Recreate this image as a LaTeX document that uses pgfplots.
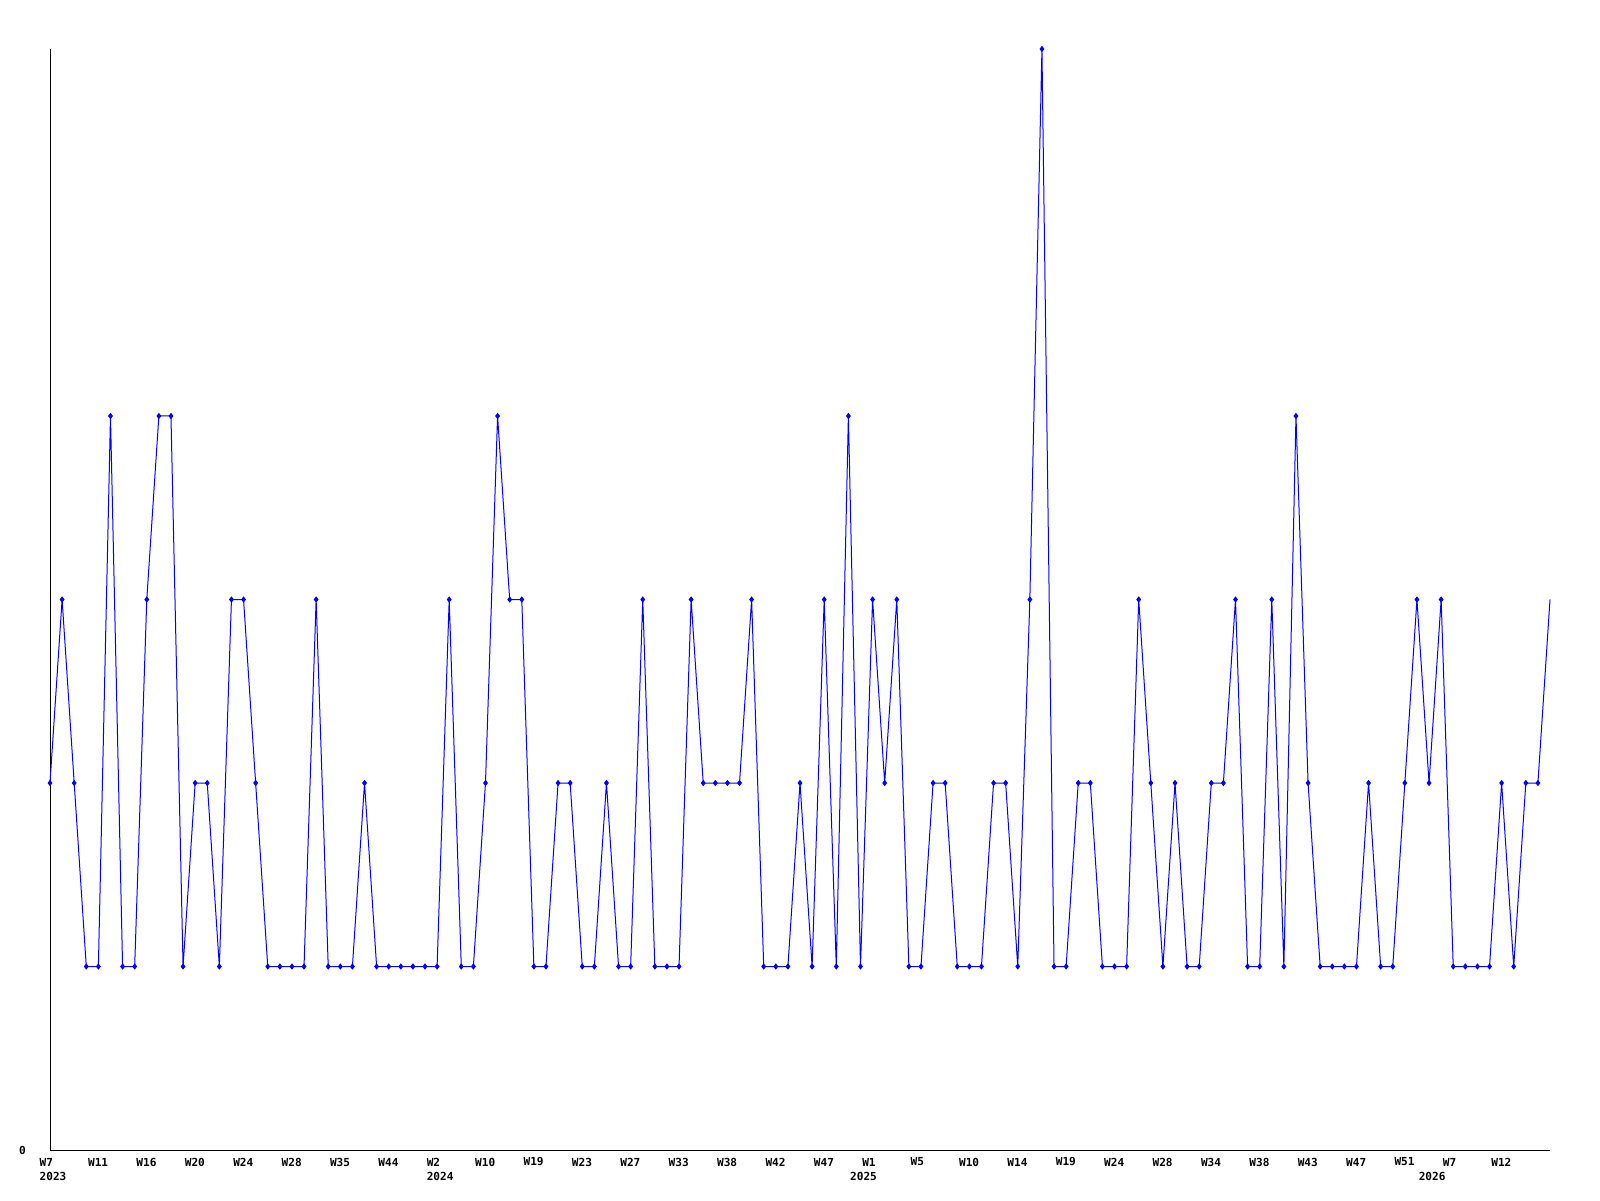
\documentclass[border=0pt]{standalone}
\usepackage{fontspec}
\setmainfont{DejaVu Sans Mono}
\usepackage{pgfplots}
\pgfplotsset{compat=1.18}
\begin{document}
\begin{tikzpicture}
\path[use as bounding box] (-25pt,-25pt) rectangle (775pt,575pt);
\begin{axis}[
  at={(0pt,0pt)}, anchor=south west,
  scale only axis, width=750pt, height=550.5pt,
  xmin=0, xmax=124, ymin=0, ymax=6,
  clip=false,
  axis x line=bottom, axis y line=left,
  axis line style={-, black, line width=0.5pt},
  major tick length=0pt,
  xtick={0,4,...,120},
  xticklabels={W7,W11,W16,W20,W24,W28,W35,W44,W2,W10,W19,W23,W27,W33,W38,W42,W47,W1,W5,W10,W14,W19,W24,W28,W34,W38,W43,W47,W51,W7,W12},
  extra x ticks={0,32,67,114},
  extra x tick labels={2023,2024,2025,2026},
  extra x tick style={xticklabel style={yshift=-7.2pt}},
  ytick={0},
  /pgf/number format/assume math mode=true,
  tick label style={font=\fontsize{5.55}{6}\selectfont\bfseries, text=black},
  xticklabel style={anchor=west, inner sep=0pt, xshift=-5.35pt, yshift=-6pt},
  yticklabel style={anchor=center, inner sep=0pt, xshift=-13.75pt},
]
\addplot[color={rgb,255:red,0;green,0;blue,255}, line width=0.5pt, mark=diamond*, mark size=1.2pt,
  mark options={solid, fill={rgb,255:red,0;green,0;blue,255}}, mark indices={1,...,124}]
coordinates {
(0,2)(1,3)(2,2)(3,1)(4,1)(5,4)(6,1)(7,1)(8,3)(9,4)
(10,4)(11,1)(12,2)(13,2)(14,1)(15,3)(16,3)(17,2)(18,1)(19,1)
(20,1)(21,1)(22,3)(23,1)(24,1)(25,1)(26,2)(27,1)(28,1)(29,1)
(30,1)(31,1)(32,1)(33,3)(34,1)(35,1)(36,2)(37,4)(38,3)(39,3)
(40,1)(41,1)(42,2)(43,2)(44,1)(45,1)(46,2)(47,1)(48,1)(49,3)
(50,1)(51,1)(52,1)(53,3)(54,2)(55,2)(56,2)(57,2)(58,3)(59,1)
(60,1)(61,1)(62,2)(63,1)(64,3)(65,1)(66,4)(67,1)(68,3)(69,2)
(70,3)(71,1)(72,1)(73,2)(74,2)(75,1)(76,1)(77,1)(78,2)(79,2)
(80,1)(81,3)(82,6)(83,1)(84,1)(85,2)(86,2)(87,1)(88,1)(89,1)
(90,3)(91,2)(92,1)(93,2)(94,1)(95,1)(96,2)(97,2)(98,3)(99,1)
(100,1)(101,3)(102,1)(103,4)(104,2)(105,1)(106,1)(107,1)(108,1)(109,2)
(110,1)(111,1)(112,2)(113,3)(114,2)(115,3)(116,1)(117,1)(118,1)(119,1)
(120,2)(121,1)(122,2)(123,2)(124,3)
};
\end{axis}
\end{tikzpicture}
\end{document}
